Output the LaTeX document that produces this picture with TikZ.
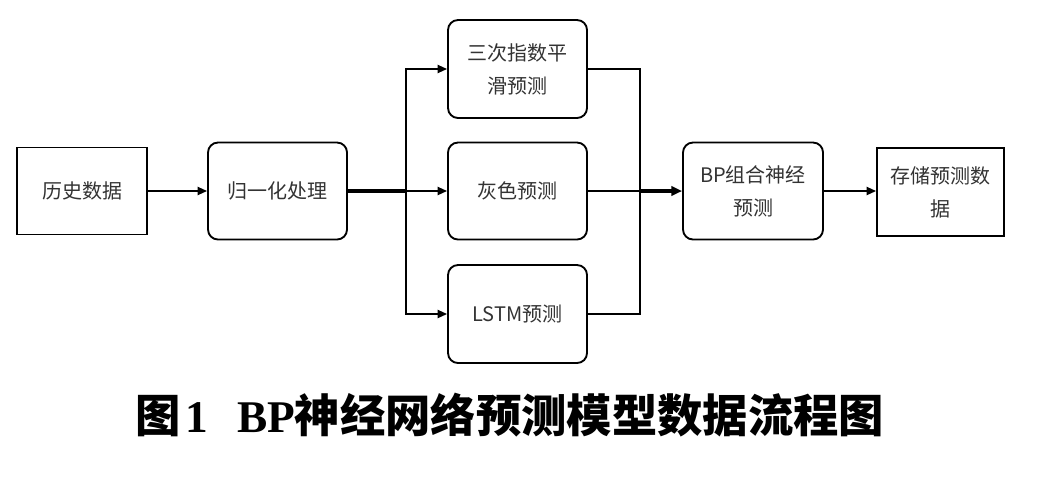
\documentclass[tikz,border=0pt]{standalone}
\usepackage{fontspec}
\setmainfont{Liberation Serif}
\newfontfamily\cjk{Noto Sans CJK SC}
\newfontfamily\cjkb{Noto Sans CJK SC Bold}
\usetikzlibrary{arrows.meta}
\definecolor{txt}{HTML}{333333}
\tikzset{
  box/.style={draw=black, line width=1.4pt, inner sep=0pt, align=center,
    font=\cjk\fontsize{15pt}{24.75pt}\selectfont, text=txt},
  rbox/.style={box, rounded corners=7.5pt},
  conn/.style={draw=black, line width=1.4pt},
  thick conn/.style={draw=black, line width=2.8pt},
  tip/.style={-{Triangle[length=7pt,width=6pt]}},
}
\begin{document}
\begin{tikzpicture}[x=0.75pt,y=-0.75pt]
\useasboundingbox[fill=white] (0,0) rectangle (1037,486);
% nodes
\node[box, minimum width=97.5pt, minimum height=65.25pt] (hist) at (82,191) {历史数据};
\node[rbox, minimum width=104.25pt, minimum height=72.75pt] (norm) at (277.5,191) {归一化处理};
\node[rbox, minimum width=104.25pt, minimum height=73.5pt] (es) at (517.5,69) {三次指数平\\滑预测};
\node[rbox, minimum width=104.25pt, minimum height=72.75pt] (grey) at (517.5,191) {灰色预测};
\node[rbox, minimum width=104.25pt, minimum height=73.5pt] (lstm) at (517.5,314) {LSTM预测};
\node[rbox, minimum width=105pt, minimum height=72.75pt] (bp) at (753,191) {BP组合神经\\预测};
\node[box, minimum width=95.25pt, minimum height=66pt] (store) at (940.5,192) {存储预测数\\据};
\coordinate (split) at (406,191);
\coordinate (merge) at (640,191);
% connectors
\draw[conn, tip] (hist) -- (norm);
\draw[thick conn] (norm.east) -- (split);
\draw[conn, tip] (split) |- (es.west);
\draw[conn, tip] (split) -- (grey.west);
\draw[conn, tip] (split) |- (lstm.west);
\draw[conn] (es.east) -| (merge);
\draw[conn] (lstm.east) -| (merge);
\draw[conn] (grey.east) -- (merge);
\draw[thick conn, -{Triangle[length=8pt,width=7pt]}] (merge) -- (bp.west);
\draw[conn, tip] (bp.east) -- (store.west |- bp.east);
% caption
\node[inner sep=0pt, font=\fontsize{34pt}{40pt}\selectfont\bfseries] (cap) at (510,415)
  {{\cjkb 图}\hspace{3pt}1\hspace{22pt}BP{\cjkb 神经网络预测模型数据流程图}};
\end{tikzpicture}
\end{document}
